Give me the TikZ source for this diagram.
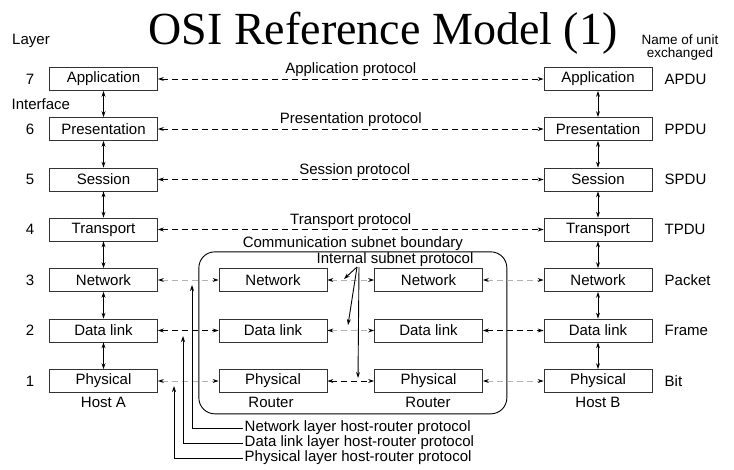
\documentclass[tikz,border=0pt]{standalone}
\usepackage{fontspec}
\setmainfont{Liberation Sans}
\newfontfamily\titlefont{Liberation Serif}
\usetikzlibrary{arrows.meta}
\begin{document}
\begin{tikzpicture}[x=1pt,y=-1pt,
  txt/.style={font=\fontsize{15}{17}\selectfont},
  lay/.style={txt, draw=black!80, line width=0.8pt, minimum width=108pt, minimum height=23pt, inner sep=0pt},
  lbl/.style={txt, inner sep=1.5pt},
  tipa/.style={-{Stealth[length=6pt,width=4pt,color=black]}, line width=0.9pt},
  dbl/.style={{Stealth[length=6pt,width=4pt,color=black]}-{Stealth[length=6pt,width=4pt,color=black]}, line width=0.9pt},
  proto/.style={dbl, dash pattern=on 6pt off 4pt},
  protog/.style={proto, draw=black!30},
]
\useasboundingbox[fill=white] (0,0) rectangle (734,470);

% title
\node[font=\titlefont\fontsize{46}{50}\selectfont, anchor=base, inner sep=0pt] (title) at (383,45) {OSI Reference Model (1)};

% headings
\node[lbl] (layer) at (31,41) {Layer};
\node[lbl, anchor=west] (iface) at (10,104) {Interface};
\node[lbl, align=center, font=\fontsize{13.5}{13.5}\selectfont, inner sep=0pt] (unit) at (680,47.5) {Name of unit\\exchanged};

% host A
\node[lay] (A7) at (103.5,79) {Application};
\node[lay] (A6) at (103.5,129) {Presentation};
\node[lay] (A5) at (103.5,179.5) {Session};
\node[lay] (A4) at (103.5,229.5) {Transport};
\node[lay] (A3) at (103.5,280) {Network};
\node[lay] (A2) at (103.5,330.5) {Data link};
\node[lay] (A1) at (103.5,381) {Physical};
% host B
\node[lay] (B7) at (598,79) {Application};
\node[lay] (B6) at (598,129) {Presentation};
\node[lay] (B5) at (598,179.5) {Session};
\node[lay] (B4) at (598,229.5) {Transport};
\node[lay] (B3) at (598,280) {Network};
\node[lay] (B2) at (598,330.5) {Data link};
\node[lay] (B1) at (598,381) {Physical};
% routers
\node[lay] (R1n) at (273,280) {Network};
\node[lay] (R1d) at (273,330.5) {Data link};
\node[lay] (R1p) at (273,381) {Physical};
\node[lay] (R2n) at (428.5,280) {Network};
\node[lay] (R2d) at (428.5,330.5) {Data link};
\node[lay] (R2p) at (428.5,381) {Physical};

% subnet boundary
\node[draw, line width=0.9pt, rounded corners=16pt, minimum width=308pt, minimum height=162pt] (subnet) at (352.85,332.85) {};
\node[lbl, anchor=south] (cslbl) at ([yshift=-1pt]subnet.north) {Communication subnet boundary};
\node[lbl] (isp) at (395,259.5) {Internal subnet protocol};

% layer numbers
\foreach \n/\y in {7/79,6/129,5/179.5,4/229.5,3/280,2/330.5,1/381}
  \node[lbl] (num\n) at (30,\y) {\n};
% unit names
\node[lbl, anchor=west] (u7) at (663,79) {APDU};
\node[lbl, anchor=west] (u6) at (663,129) {PPDU};
\node[lbl, anchor=west] (u5) at (663,179.5) {SPDU};
\node[lbl, anchor=west] (u4) at (663,229.5) {TPDU};
\node[lbl, anchor=west] (u3) at (663,280) {Packet};
\node[lbl, anchor=west] (u2) at (663,330.5) {Frame};
\node[lbl, anchor=west] (u1) at (663,381) {Bit};

% host / router labels
\node[lbl] (hA) at (103.5,402) {Host A};
\node[lbl] (r1l) at (271,402) {Router};
\node[lbl] (r2l) at (428,402) {Router};
\node[lbl] (hB) at (598,402) {Host B};

% interfaces
\foreach \h in {A,B}{
  \draw[dbl] (\h7) -- (\h6);
  \draw[dbl] (\h6) -- (\h5);
  \draw[dbl] (\h5) -- (\h4);
  \draw[dbl] (\h4) -- (\h3);
  \draw[dbl] (\h3) -- (\h2);
  \draw[dbl] (\h2) -- (\h1);
}

% peer protocols
\draw[proto] (A7) -- (B7) node[midway, above, lbl] {Application protocol};
\draw[proto] (A6) -- (B6) node[midway, above, lbl] {Presentation protocol};
\draw[proto] (A5) -- (B5) node[midway, above, lbl, xshift=4pt] {Session protocol};
\draw[proto] (A4) -- (B4) node[midway, above, lbl] {Transport protocol};

\draw[protog] (A3) -- (R1n);
\draw[protog] (R1n) -- (R2n);
\draw[protog] (R2n) -- (B3);
\draw[proto] (A2) -- (R1d);
\draw[protog] (R1d) -- (R2d);
\draw[proto] (R2d) -- (B2);
\draw[protog] (A1) -- (R1p);
\draw[proto] (R1p) -- (R2p);
\draw[protog] (R2p) -- (B1);

% internal subnet protocol pointers
\coordinate (ispA) at (357,267);
\coordinate (ispB) at (359,267);
\coordinate (ispN) at (344,279);
\coordinate (ispD) at (348,325);
\coordinate (ispP) at (358,378);
\draw[tipa] (ispA) -- (ispN);
\draw[tipa] (ispA) -- (ispD);
\draw[tipa] (ispB) -- (ispP);

% host-router protocol callouts
\node[lbl, anchor=west] (nlh) at (243,428) {Network layer host-router protocol};
\node[lbl, anchor=west] (dlh) at (243,443) {Data link layer host-router protocol};
\node[lbl, anchor=west] (plh) at (243,458) {Physical layer host-router protocol};
\coordinate (nlt) at (192,285);
\coordinate (dlt) at (183,336);
\coordinate (plt) at (174,386);
\draw[tipa, line width=0.8pt] (nlh.west) -| (nlt);
\draw[tipa, line width=0.8pt] (dlh.west) -| (dlt);
\draw[tipa, line width=0.8pt] (plh.west) -| (plt);
\end{tikzpicture}
\end{document}
